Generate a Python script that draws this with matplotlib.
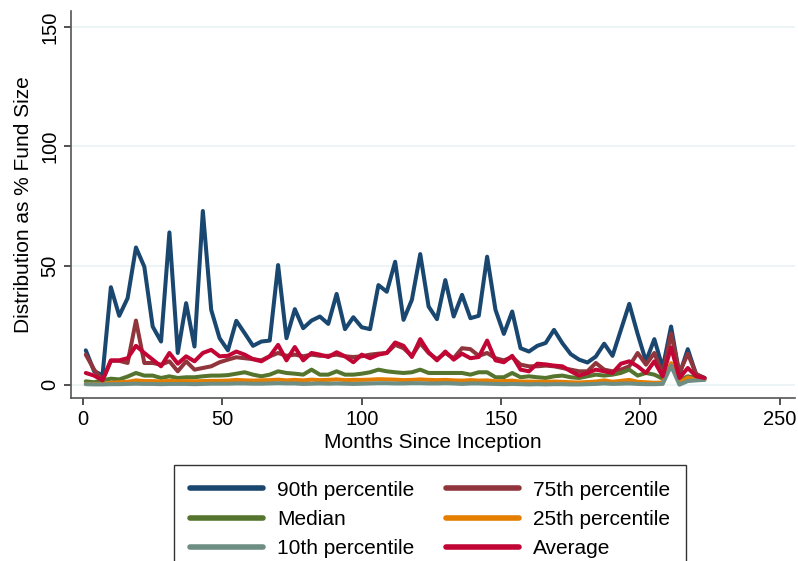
import numpy as np
import matplotlib
matplotlib.use("Agg")
import matplotlib.pyplot as plt

plt.rcParams['font.family'] = ['Liberation Sans', 'DejaVu Sans']

# months since inception, sampled every 3 months
months = list(range(1, 224, 3))

p90 = [14.4, 5.6, 4.0, 40.9, 28.9, 36.3, 57.6, 49.5, 24.4, 18.1, 63.9, 13.3, 34.2, 16.0, 72.9, 31.4, 19.5, 14.4,
       26.8, 21.6, 16.3, 18.1, 18.5, 50.2, 19.5, 31.7, 23.7, 26.9, 28.6, 25.5, 38.1, 23.3, 28.3, 24.1, 23.3, 41.8,
       39.0, 51.6, 27.2, 35.6, 54.8, 32.8, 27.5, 43.9, 28.6, 37.7, 27.9, 28.9, 53.7, 31.4, 21.3, 30.7, 15.3, 13.9,
       16.3, 17.5, 23.0, 17.4, 12.8, 10.5, 9.3, 11.8, 17.2, 12.1, 23.0, 33.9, 21.3, 9.8, 19.1, 7.0, 24.4, 4.2,
       14.9, 4.2, 2.8]
p75 = [12.6, 6.3, 1.8, 10.0, 10.0, 9.1, 26.9, 9.1, 9.1, 8.4, 9.8, 5.6, 9.8, 6.3, 7.0, 7.7, 9.4, 10.5,
       11.5, 11.1, 10.7, 10.2, 11.9, 13.3, 12.1, 12.6, 11.9, 12.6, 12.1, 12.1, 12.6, 11.9, 11.6, 11.9, 12.6, 13.0,
       13.3, 16.7, 15.3, 12.1, 17.4, 13.3, 10.7, 13.3, 11.1, 15.3, 14.9, 12.1, 13.3, 11.1, 10.2, 11.6, 8.4, 7.7,
       7.7, 8.0, 7.7, 7.0, 6.3, 5.6, 5.6, 9.1, 6.3, 5.6, 6.3, 7.7, 13.3, 8.4, 13.3, 4.2, 21.5, 4.9,
       13.0, 4.5, 2.8]
p50 = [1.4, 1.0, 1.8, 2.5, 2.2, 3.4, 4.9, 3.8, 3.8, 2.8, 3.5, 2.8, 3.1, 3.1, 3.5, 3.8, 3.8, 4.0,
       4.6, 5.2, 4.2, 3.5, 4.2, 5.6, 4.9, 4.6, 4.2, 6.3, 4.2, 4.2, 5.6, 4.2, 4.2, 4.6, 5.2, 6.3,
       5.6, 5.2, 4.9, 5.2, 6.3, 4.9, 4.9, 4.9, 4.9, 4.9, 4.2, 5.2, 5.2, 3.1, 3.1, 4.9, 3.1, 3.5,
       3.1, 2.8, 3.5, 3.8, 3.1, 2.8, 3.5, 4.2, 3.8, 4.2, 4.9, 6.3, 3.8, 4.9, 4.2, 2.5, 7.7, 1.8,
       3.5, 2.8, 2.5]
p25 = [0.3, 0.3, 0.3, 0.8, 1.0, 1.2, 1.8, 1.5, 1.5, 1.3, 1.6, 1.4, 1.5, 1.4, 1.5, 1.6, 1.6, 1.7,
       2.0, 1.8, 1.7, 1.8, 1.9, 2.1, 1.8, 2.0, 1.8, 2.1, 1.9, 2.0, 2.2, 1.9, 2.0, 2.0, 2.1, 2.3,
       2.2, 2.1, 1.9, 2.0, 2.2, 2.0, 1.9, 2.0, 1.8, 1.7, 1.9, 1.7, 1.8, 1.4, 1.5, 1.7, 1.3, 1.3,
       1.2, 1.2, 1.3, 1.2, 1.0, 0.9, 1.1, 1.3, 1.8, 1.2, 1.6, 2.0, 1.2, 1.0, 0.8, 0.9, 9.0, 0.8,
       3.0, 2.0, 2.2]
p10 = [0.2, 0.1, 0.1, 0.2, 0.2, 0.3, 0.4, 0.3, 0.3, 0.2, 0.3, 0.3, 0.3, 0.2, 0.3, 0.4, 0.4, 0.4,
       0.5, 0.5, 0.4, 0.4, 0.5, 0.6, 0.5, 0.5, 0.3, 0.4, 0.5, 0.4, 0.5, 0.4, 0.3, 0.4, 0.5, 0.6,
       0.6, 0.5, 0.5, 0.6, 0.6, 0.5, 0.5, 0.6, 0.5, 0.3, 0.5, 0.5, 0.4, 0.3, 0.2, 0.3, 0.2, 0.1,
       0.2, 0.1, 0.2, 0.2, 0.1, 0.1, 0.2, 0.3, 0.5, 0.3, 0.4, 0.5, 0.3, 0.2, 0.2, 0.3, 8.0, 0.0,
       1.5, 1.8, 2.0]
avg = [4.9, 3.8, 1.8, 10.2, 10.2, 11.1, 16.3, 13.3, 10.5, 7.7, 13.3, 8.8, 11.9, 9.8, 13.3, 14.6, 11.9, 12.1,
       13.9, 12.6, 10.7, 9.8, 11.9, 16.7, 10.2, 15.8, 10.2, 13.3, 12.6, 11.6, 13.6, 11.9, 9.4, 12.6, 11.1, 12.6,
       13.3, 17.7, 16.3, 11.6, 19.1, 13.6, 10.2, 13.9, 10.5, 13.0, 11.1, 11.6, 18.5, 10.2, 9.4, 12.1, 6.3, 5.6,
       8.8, 8.5, 8.0, 7.7, 5.6, 3.8, 4.9, 6.3, 5.6, 4.9, 8.8, 9.8, 7.7, 4.9, 9.8, 3.5, 15.6, 2.8,
       7.0, 3.5, 2.8]

series = [
    (p90, '#1a476f', '90th percentile'),
    (p75, '#90353b', '75th percentile'),
    (p50, '#55752f', 'Median'),
    (p25, '#e37e00', '25th percentile'),
    (p10, '#6e8e84', '10th percentile'),
    (avg, '#c10534', 'Average'),
]

fig = plt.figure(figsize=(7.98, 5.61), dpi=100)
ax = fig.add_axes([0.089, 0.291, 0.907, 0.69])

lines = []
for vals, col, lab in series:
    ln, = ax.plot(months, vals, color=col, lw=2.9, label=lab, solid_joinstyle='round', solid_capstyle='round')
    lines.append(ln)

ax.set_xlim(-4.3, 255.4)
ax.set_ylim(-5.5, 157)
ax.set_xticks([0, 50, 100, 150, 200, 250])
ax.set_yticks([0, 50, 100, 150])
ax.grid(axis='y', color='#eaf2f3', lw=1.2)
ax.set_axisbelow(True)

for s in ['top', 'right']:
    ax.spines[s].set_visible(False)
for s in ['left', 'bottom']:
    ax.spines[s].set_color('#555555')
    ax.spines[s].set_linewidth(1.2)

ax.tick_params(axis='both', direction='out', length=5, width=1.2, color='#333333', labelsize=14.5)
for t in ax.get_yticklabels():
    t.set_rotation(90)
    t.set_va('center')

ax.set_xlabel('Months Since Inception', fontsize=15, labelpad=3)
ax.set_ylabel('Distribution as % Fund Size', fontsize=15, labelpad=5)

# legend filled row by row: reorder for matplotlib's column-major layout
order = [0, 2, 4, 1, 3, 5]
leg = fig.legend([lines[i] for i in order], [series[i][2] for i in order],
                 loc='upper center', bbox_to_anchor=(0.539, 1 - 465 / 561), ncol=2,
                 fontsize=15, frameon=True, fancybox=False, edgecolor='black',
                 handlelength=3.5, handletextpad=0.7, columnspacing=1.5,
                 labelspacing=0.5, borderpad=0.75, borderaxespad=0)
leg.get_frame().set_linewidth(1.0)
for h in leg.get_lines():
    h.set_linewidth(4)

fig.savefig('out.png', dpi=100)
